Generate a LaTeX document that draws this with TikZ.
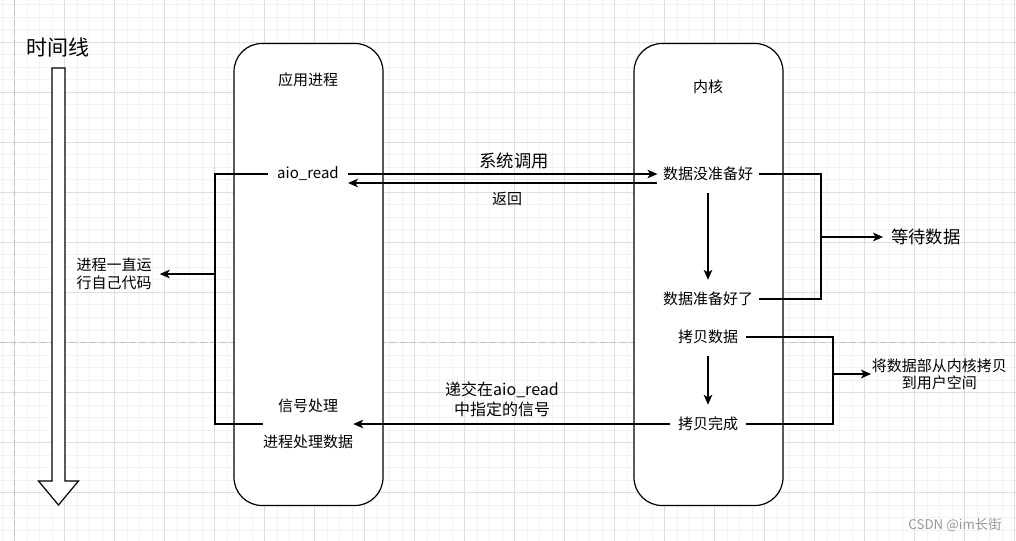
\documentclass[tikz,border=0pt]{standalone}
\usepackage{fontspec}
\setmainfont{Noto Sans CJK SC}
\usetikzlibrary{arrows.meta,positioning}

\begin{document}
\begin{tikzpicture}[
    x=0.75pt, y=-0.75pt,
    font=\fontsize{11.25pt}{13.5pt}\selectfont,
    lane/.style={draw, fill=white, line width=0.9pt, rounded corners=21pt, minimum width=111.75pt, minimum height=346.5pt},
    lbl/.style={inner sep=4pt, align=center},
    big/.style={font=\fontsize{13pt}{16pt}\selectfont},
    wire/.style={line width=0.9pt},
    arr/.style={-{Stealth[length=7.5pt, width=6.5pt, inset=2pt]}, line width=0.9pt},
    gridminor/.style={line width=0.75pt, black!5},
    gridmajor/.style={line width=0.75pt, black!13},
    pagebreak/.style={line width=0.9pt, black!25, dash pattern=on 4.5pt off 3pt}]
  % page and grid
  \fill[white] (0,0) rectangle (1016,541);
  \useasboundingbox (0,0) rectangle (1016,541);
  \foreach \i in {-1,...,80} \draw[gridminor] ({14.5+12.5*\i},0) -- ++(0,541);
  \foreach \j in {-3,...,39} \draw[gridminor] (0,{42.5+12.5*\j}) -- ++(1016,0);
  \foreach \i in {0,...,20} \draw[gridmajor] ({14.5+50*\i},0) -- ++(0,541);
  \foreach \j in {0,...,9} \draw[gridmajor] (0,{42.5+50*\j}) -- ++(1016,0);
  \draw[pagebreak] (14.5,0) -- (14.5,541);
  \draw[pagebreak] (0,342.5) -- (1016,342.5);

  % time line
  \node[lbl, font=\fontsize{15.75pt}{18pt}\selectfont] (title) at (58,48) {时间线};
  \draw[line width=0.9pt, fill=white] (52,68) -- (65,68) -- (65,481) -- (78.5,481)
    -- (58.5,505) -- (38.5,481) -- (52,481) -- cycle;

  % the two lanes
  \node[lane] (app) at (308.5,274.5) {};
  \node[lane] (kernel) at (708.5,274.5) {};
  \node[lbl] (appname) at (308,80) {应用进程};
  \node[lbl] (kernname) at (708,87) {内核};

  % process side
  \node[lbl, inner xsep=6.75pt] (aio) at (308,174) {aio\_read};
  \node[lbl, inner sep=0pt] (sighandle) at (308,424) {信号处理\\[13.5pt]进程处理数据};
  \node[lbl, inner xsep=6pt, font=\fontsize{11.25pt}{13.5pt}\selectfont] (keeprun) at (114,274) {进程一直运\\行自己代码};
  \coordinate (bus) at (215,274);

  % kernel side
  \node[lbl] (notready) at (708,174) {数据没准备好};
  \node[lbl] (ready) at (708,299) {数据准备好了};
  \node[lbl, inner xsep=6pt] (copy) at (708,337) {拷贝数据};
  \node[lbl, inner xsep=6pt] (copied) at (708,424) {拷贝完成};
  \coordinate (waitbus) at (821,237);
  \coordinate (copybus) at (833,374);
  \node[lbl, big, anchor=west, inner xsep=6pt] (wait) at (883,237) {等待数据};
  \node[lbl, anchor=west, inner xsep=0.5pt, font=\fontsize{11.25pt}{12.75pt}\selectfont] (touser) at (871,374) {将数据部从内核拷贝\\到用户空间};

  % labels on the calls
  \node[lbl, big] (syscall) at (514,161) {系统调用};
  \node[lbl] (ret) at (507,199) {返回};
  \node[lbl, font=\fontsize{12pt}{15pt}\selectfont] (deliver) at (502,399) {递交在aio\_read\\中指定的信号};

  \draw[arr] (aio.east) -- (notready.west);
  \draw[arr] ([yshift=-6.75pt]notready.west) -- ([yshift=-6.75pt]aio.east);
  \draw[wire] (aio.west) -| (bus) |- (sighandle.west);
  \draw[arr] (bus) -- (keeprun.east);
  \draw[arr, shorten <=5pt, shorten >=5pt] (notready.south) -- (ready.north);
  \draw[wire] (notready.east) -| (waitbus) |- (ready.east);
  \draw[arr] (waitbus) -- (wait.west);
  \draw[arr, shorten <=5pt, shorten >=5pt] (copy.south) -- (copied.north);
  \draw[wire] (copy.east) -| (copybus) |- (copied.east);
  \draw[arr] (copybus) -- (touser.west);
  \draw[arr] (copied.west) -- (sighandle.east);

  \node[text=black!40, font=\fontsize{10pt}{12pt}\selectfont] (csdn) at (955,525) {CSDN @im长街};
\end{tikzpicture}
\end{document}
